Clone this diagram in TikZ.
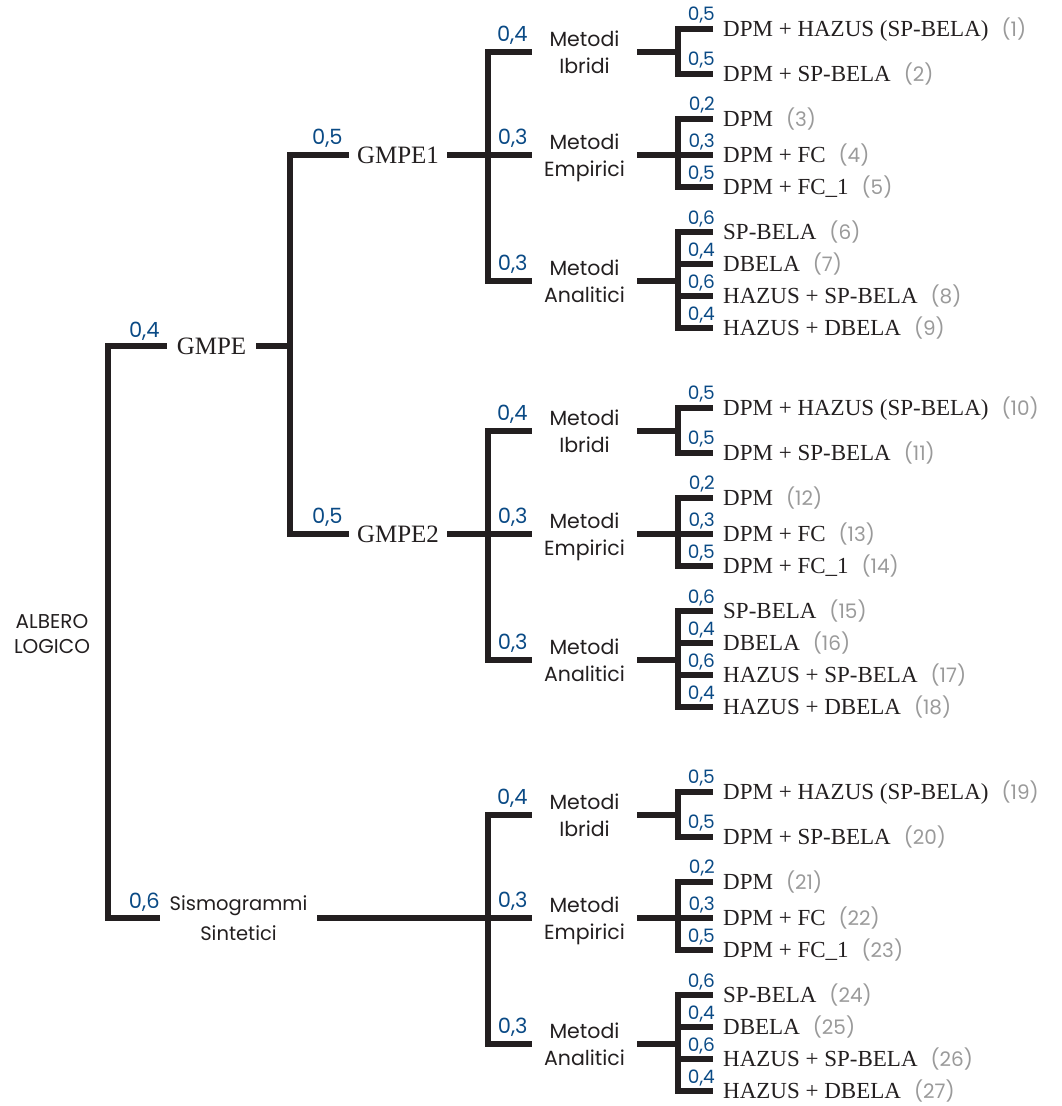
\documentclass[tikz,border=0pt]{standalone}
\usepackage{fontspec}
\setmainfont{Liberation Serif}
\newfontfamily\sfp{Poppins}
\definecolor{linec}{HTML}{231F20}
\definecolor{probc}{HTML}{0A4A85}
\definecolor{numc}{HTML}{9A9A9A}
\begin{document}
\begin{tikzpicture}[x=1pt,y=-1pt,
  br/.style={line width=6pt, draw=linec, line join=miter},
  serifn/.style={font=\fontsize{25}{30}\selectfont, inner sep=0pt, text height=16.5pt, text depth=0pt, text=linec},
  meth/.style={font=\sfp\fontsize{20.5}{27}\selectfont, align=center, minimum width=105pt, inner sep=0pt, text height=42pt, text depth=0pt, text=linec},
  leaf/.style={anchor=west, inner xsep=10pt, inner ysep=0pt, font=\fontsize{23}{27}\selectfont, text height=15.2pt, text depth=0pt, text=linec},
  prob/.style={font=\sfp\fontsize{21}{21}\selectfont, text=probc, anchor=base east, inner sep=0pt},
  lprob/.style={font=\sfp\fontsize{18.5}{18.5}\selectfont, text=probc, anchor=base east, inner sep=0pt}
]
\useasboundingbox (0,0) rectangle (1061,1106);
\newcommand{\nm}[1]{\hspace{13pt}{\sfp\fontsize{20}{20}\selectfont\color{numc}(#1)}}

\coordinate (c0) at (108,0);
\coordinate (c1) at (290,0);
\coordinate (c2) at (488,0);
\coordinate (c3) at (678,0);

\node[font=\sfp\fontsize{20}{25}\selectfont, align=center, text=linec, inner sep=0pt] (root) at (52,634) {ALBERO\\LOGICO};

\node[serifn, minimum width=89pt] (gmpe) at (211.5,346) {GMPE};
\node[meth, minimum width=157pt, font=\sfp\fontsize{19.5}{30}\selectfont, text height=45pt] (sismo) at (238.5,918) {Sismogrammi\\Sintetici};
\node[serifn, minimum width=98pt] (gmpe1) at (398,155) {GMPE1};
\node[serifn, minimum width=98pt] (gmpe2) at (398,534) {GMPE2};

\draw[br] (gmpe.west) -- (gmpe.west -| c0) -- (sismo.west -| c0) -- (sismo.west);
\node[prob] at ([xshift=-7pt,yshift=9pt]gmpe.west) {0,4};
\node[prob] at ([xshift=0pt,yshift=10pt]sismo.west) {0,6};

\draw[br] (gmpe.east) -- (gmpe.east -| c1);
\draw[br] (gmpe1.west) -- (gmpe1.west -| c1) -- (gmpe2.west -| c1) -- (gmpe2.west);
\node[prob] at ([xshift=-6pt,yshift=11pt]gmpe1.west) {0,5};
\node[prob] at ([xshift=-6pt,yshift=11pt]gmpe2.west) {0,5};

\foreach \g/\gy/\pn in {1/0/gmpe1, 2/379/gmpe2, 3/763/sismo}{
  \pgfmathtruncatemacro{\k}{(\g-1)*9}
  \node[meth] (ib\g) at (584.5,52+\gy) {Metodi\\Ibridi};
  \node[meth] (em\g) at (584.5,155+\gy) {Metodi\\Empirici};
  \node[meth] (an\g) at (584.5,281+\gy) {Metodi\\Analitici};
  \draw[br] (\pn.east) -- (em\g.west);
  \draw[br] (ib\g.west) -- (ib\g.west -| c2) -- (an\g.west -| c2) -- (an\g.west);
  \node[prob] at ([xshift=-4pt,yshift=11pt]ib\g.west) {0,4};
  \node[prob] at ([xshift=-4pt,yshift=11pt]em\g.west) {0,3};
  \node[prob] at ([xshift=-4pt,yshift=11pt]an\g.west) {0,3};
  % leaves
  \pgfmathtruncatemacro{\ka}{\k+1}\pgfmathtruncatemacro{\kb}{\k+2}\pgfmathtruncatemacro{\kc}{\k+3}
  \pgfmathtruncatemacro{\kd}{\k+4}\pgfmathtruncatemacro{\ke}{\k+5}\pgfmathtruncatemacro{\kf}{\k+6}
  \pgfmathtruncatemacro{\kg}{\k+7}\pgfmathtruncatemacro{\kh}{\k+8}\pgfmathtruncatemacro{\ki}{\k+9}
  \node[leaf] (L\g n1) at (713,29+\gy) {DPM + HAZUS (SP-BELA)\nm{\ka}};
  \node[leaf] (L\g n2) at (713,74+\gy) {DPM + SP-BELA\nm{\kb}};
  \node[leaf] (L\g n3) at (713,119+\gy) {DPM\nm{\kc}};
  \node[leaf] (L\g n4) at (713,155+\gy) {DPM + FC\nm{\kd}};
  \node[leaf] (L\g n5) at (713,187+\gy) {DPM + FC\_1\nm{\ke}};
  \node[leaf] (L\g n6) at (713,232+\gy) {SP-BELA\nm{\kf}};
  \node[leaf] (L\g n7) at (713,264+\gy) {DBELA\nm{\kg}};
  \node[leaf] (L\g n8) at (713,296+\gy) {HAZUS + SP-BELA\nm{\kh}};
  \node[leaf] (L\g n9) at (713,328+\gy) {HAZUS + DBELA\nm{\ki}};
  % brackets
  \draw[br] (ib\g.east) -- (ib\g.east -| c3);
  \draw[br] (L\g n1.west) -- (L\g n1.west -| c3) -- (L\g n2.west -| c3) -- (L\g n2.west);
  \draw[br] (em\g.east) -- (L\g n4.west);
  \draw[br] (L\g n3.west) -- (L\g n3.west -| c3) -- (L\g n5.west -| c3) -- (L\g n5.west);
  \draw[br] (an\g.east) -- (an\g.east -| c3);
  \draw[br] (L\g n6.west) -- (L\g n6.west -| c3) -- (L\g n9.west -| c3) -- (L\g n9.west);
  \draw[br] (L\g n7.west -| c3) -- (L\g n7.west);
  \draw[br] (L\g n8.west -| c3) -- (L\g n8.west);
  % leaf probabilities
  \node[lprob] at ([xshift=2pt,yshift=9pt]L\g n1.west) {0,5};
  \node[lprob] at ([xshift=2pt,yshift=9pt]L\g n2.west) {0,5};
  \node[lprob] at ([xshift=2pt,yshift=9pt]L\g n3.west) {0,2};
  \node[lprob] at ([xshift=2pt,yshift=8pt]L\g n4.west) {0,3};
  \node[lprob] at ([xshift=2pt,yshift=8pt]L\g n5.west) {0,5};
  \node[lprob] at ([xshift=2pt,yshift=8pt]L\g n6.west) {0,6};
  \node[lprob] at ([xshift=2pt,yshift=8pt]L\g n7.west) {0,4};
  \node[lprob] at ([xshift=2pt,yshift=8pt]L\g n8.west) {0,6};
  \node[lprob] at ([xshift=2pt,yshift=8pt]L\g n9.west) {0,4};
}
\end{tikzpicture}
\end{document}
